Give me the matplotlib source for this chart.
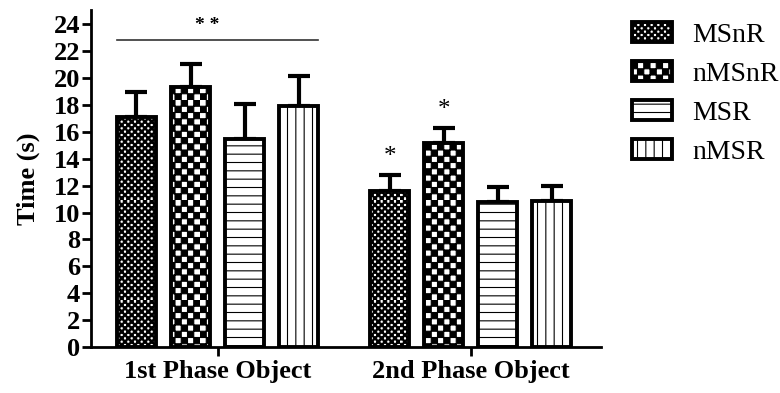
import numpy as np
import matplotlib
matplotlib.use("Agg")
import matplotlib.pyplot as plt
from matplotlib import hatch as mhatch
from matplotlib.path import Path

# ---- data -------------------------------------------------------------
groups = ["1st Phase Object", "2nd Phase Object"]
series = ["MSnR", "nMSnR", "MSR", "nMSR"]

msnr_mean = [17.1, 11.6]
msnr_err = [1.85, 1.2]
nmsnr_mean = [19.3, 15.2]
nmsnr_err = [1.75, 1.1]
msr_mean = [15.5, 10.8]
msr_err = [2.55, 1.1]
nmsr_mean = [17.9, 10.85]
nmsr_err = [2.25, 1.1]

yticks = list(range(0, 25, 2))
overall_sig = "* *"          # first phase vs second phase
bar_sig = [["", ""], ["", ""], ["", ""], ["", ""]]
bar_sig[0][1] = "*"
bar_sig[1][1] = "*"


# ---- checkerboard hatch ('O' repeated n times -> 2n cells per unit) ----
class CheckerHatch(mhatch.HatchPatternBase):
    def __init__(self, hatch, density):
        self.cells = 2 * hatch.count("O")
        self.num_vertices = (self.cells ** 2 // 2) * 5 if self.cells else 0

    def set_vertices_and_codes(self, vertices, codes):
        n = self.cells
        s = 1.0 / n
        ii, jj = np.meshgrid(np.arange(n), np.arange(n))
        mask = (ii + jj) % 2 == 0
        x0 = ii[mask] * s
        y0 = jj[mask] * s
        sq = np.array([[0, 0], [1, 0], [1, 1], [0, 1], [0, 0]], float) * s
        v = (np.stack([x0, y0], 1)[:, None, :] + sq[None]).reshape(-1, 2)
        vertices[:] = v
        c = np.array([Path.MOVETO, Path.LINETO, Path.LINETO, Path.LINETO,
                      Path.CLOSEPOLY])
        codes[:] = np.tile(c, len(x0))


mhatch._hatch_types[:] = [t for t in mhatch._hatch_types
                          if t is not mhatch.LargeCircles] + [CheckerHatch]

plt.rcParams["hatch.linewidth"] = 0.8
plt.rcParams["font.family"] = ["Liberation Serif", "DejaVu Serif"]

means = [msnr_mean, nmsnr_mean, msr_mean, nmsr_mean]
errs = [msnr_err, nmsnr_err, msr_err, nmsr_err]
hatches = ["O" * 15, "O" * 8, "--", "||"]

fig = plt.figure(figsize=(7.8, 3.93), dpi=100)
ax = fig.add_axes([91 / 780, 46 / 393, 510 / 780, 337 / 393])

group_x = np.array([0.0, 4.68])
width = 0.72

handles = []
for i, name in enumerate(series):
    x = group_x + (i - 1.5)
    b = ax.bar(x, means[i], width=width, color="white", edgecolor="black",
               linewidth=2.8, hatch=hatches[i], label=name, zorder=3)
    handles.append(b)
    ax.errorbar(x, means[i], yerr=[np.zeros(len(errs[i])), errs[i]],
                fmt="none", ecolor="black", elinewidth=3, capsize=8,
                capthick=3, zorder=2)
    for j in range(len(groups)):
        if bar_sig[i][j]:
            ax.text(x[j], means[i][j] + errs[i][j] + 0.85, bar_sig[i][j],
                    ha="center", va="baseline", fontsize=18)

# bracket over the first phase
left = group_x[0] - 1.5 - width / 2
right = group_x[0] + 1.5 + width / 2
ax.plot([left, right], [22.8, 22.8], color="#333333", lw=1.2, zorder=4,
        clip_on=False)
ax.text(group_x[0] - 0.19, 23.6, overall_sig, ha="center", va="baseline",
        fontsize=14, fontweight="bold")

ax.set_xlim(-2.34, 7.09)
ax.set_ylim(0, 25.06)
ax.set_yticks(yticks)
ax.set_xticks(group_x)
ax.set_xticklabels(groups, fontsize=19, fontweight="bold")
for lab in ax.get_yticklabels():
    lab.set_fontweight("bold")
ax.tick_params(axis="both", direction="out", width=2, length=6.5,
               labelsize=19, pad=1.5)
ax.tick_params(axis="x", pad=3)
ax.set_ylabel("Time (s)", fontsize=19, fontweight="bold", labelpad=10)

for s in ["top", "right"]:
    ax.spines[s].set_visible(False)
for s in ["left", "bottom"]:
    ax.spines[s].set_linewidth(2)

fig.legend(handles=handles, labels=series, loc="upper left",
           bbox_to_anchor=(632 / 780, 1 - 22 / 393), frameon=False,
           fontsize=20, handlelength=1.44, handleheight=0.75,
           handletextpad=0.72, labelspacing=0.47, borderpad=0,
           borderaxespad=0)

fig.savefig("out.png", dpi=100)
